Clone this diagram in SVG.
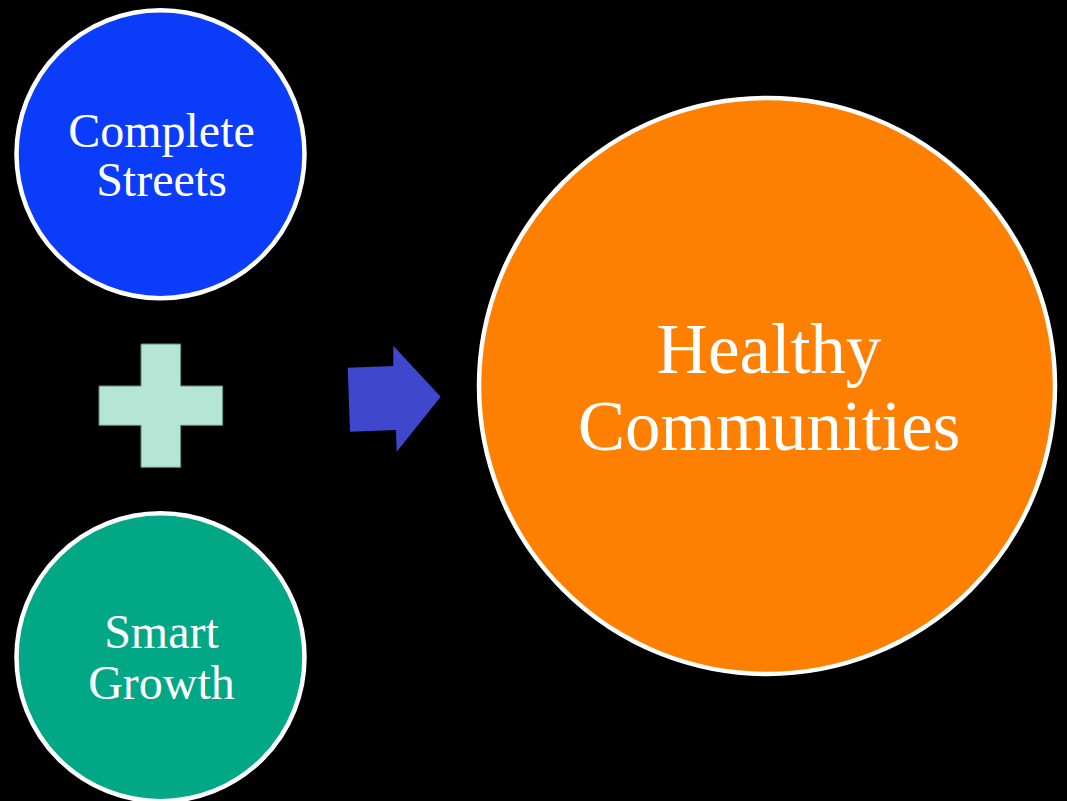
<svg xmlns="http://www.w3.org/2000/svg" width="1067" height="801" viewBox="0 0 1067 801">
<style>
.node circle{stroke:#ffffff;stroke-width:4.5}
.lbl{font-family:"Liberation Serif","Times New Roman",serif;fill:#ffffff;text-anchor:middle}
.s{font-size:48px}
.b{font-size:71px}
</style>
<rect x="0" y="0" width="1067" height="801" fill="#000000"/>
<g id="complete-streets" class="node">
<circle cx="160.5" cy="154.2" r="144" fill="#0A3CFA"/>
<text class="lbl s" x="161.5" y="146.5">Complete</text>
<text class="lbl s" x="161.5" y="196">Streets</text>
</g>
<g id="plus" class="node">
<path d="M141,344 H180.7 V386 H222.7 V425.3 H180.7 V467.3 H141 V425.3 H99 V386 H141 Z" fill="#B5E5D5" stroke="#5E8A7C" stroke-width="1"/>
</g>
<g id="smart-growth" class="node">
<circle cx="160.5" cy="657.3" r="144" fill="#02A886"/>
<text class="lbl s" x="161.5" y="648">Smart</text>
<text class="lbl s" x="161.5" y="699">Growth</text>
</g>
<g id="connectors">
<path d="M347.7,367.7 L393.3,366 L393.3,345.7 L440.7,396.7 L396.7,451.7 L396,430 L350,431.7 Z" fill="#3F48CC"/>
</g>
<g id="healthy-communities" class="node">
<circle cx="767" cy="386" r="288" fill="#FF7F00"/>
<text class="lbl b" x="769" y="372.7">Healthy</text>
<text class="lbl b" x="769" y="450">Communities</text>
</g>
</svg>
